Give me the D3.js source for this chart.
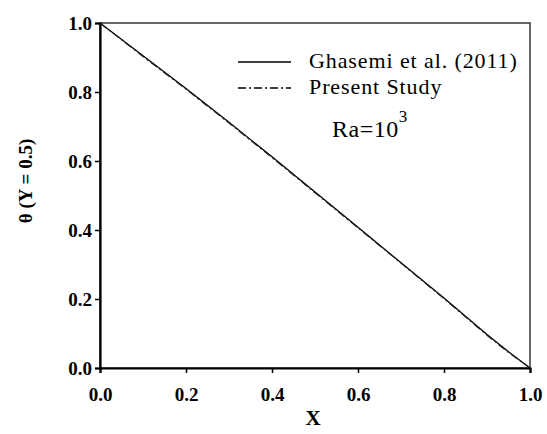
<!DOCTYPE html>
<html>
<head>
<meta charset="utf-8">
<script src="https://cdn.jsdelivr.net/npm/d3@7"></script>
<style>
  body { margin: 0; background: #fff; }
  svg text { fill: #000; }
</style>
</head>
<body>
<div id="chart"></div>
<script>
// data
const xValues = [0.0, 0.1, 0.2, 0.3, 0.4, 0.5, 0.6, 0.7, 0.8, 0.9, 0.95, 1.0];
const ghasemi = [1.0, 0.905, 0.81, 0.712, 0.612, 0.51, 0.408, 0.305, 0.203, 0.097, 0.047, 0.0];
const present = [1.0, 0.903, 0.808, 0.71, 0.61, 0.508, 0.406, 0.304, 0.201, 0.095, 0.045, 0.0];
const xTicks = [0.0, 0.2, 0.4, 0.6, 0.8, 1.0];
const yTicks = [0.0, 0.2, 0.4, 0.6, 0.8, 1.0];
const legendNames = ["Ghasemi et al. (2011)", "Present Study"];

const width = 547, height = 434;
const margin = { top: 23, right: 17, bottom: 66, left: 100 };
const serif = "Liberation Serif, Times New Roman, serif";

const svg = d3.select("#chart").append("svg")
  .attr("width", width)
  .attr("height", height);

const x = d3.scaleLinear().domain([0, 1]).range([margin.left, width - margin.right]);
const y = d3.scaleLinear().domain([0, 1]).range([height - margin.bottom, margin.top]);

// frame
svg.append("rect")
  .attr("x", x(0)).attr("y", y(1))
  .attr("width", x(1) - x(0)).attr("height", y(0) - y(1))
  .attr("fill", "none").attr("stroke", "#333").attr("stroke-width", 1.5);

// x axis
const xAxis = svg.append("g")
  .attr("transform", "translate(0," + y(0) + ")")
  .call(d3.axisBottom(x).tickValues(xTicks).tickFormat(d3.format(".1f")).tickSize(5).tickPadding(15));
xAxis.select(".domain").attr("stroke-width", 2.2);
xAxis.selectAll("line").attr("stroke-width", 1.5);
xAxis.selectAll("text")
  .attr("font-family", serif).attr("font-weight", "bold").attr("font-size", 19);

// y axis
const yAxis = svg.append("g")
  .attr("transform", "translate(" + x(0) + ",0)")
  .call(d3.axisLeft(y).tickValues(yTicks).tickFormat(d3.format(".1f")).tickSize(5).tickPadding(3));
yAxis.select(".domain").attr("stroke-width", 2.2);
yAxis.selectAll("line").attr("stroke-width", 1.5);
yAxis.selectAll("text")
  .attr("font-family", serif).attr("font-weight", "bold").attr("font-size", 19);

// axis titles
svg.append("text")
  .attr("x", 313).attr("y", 425)
  .attr("text-anchor", "middle")
  .attr("font-family", serif).attr("font-weight", "bold").attr("font-size", 21)
  .text("X");

svg.append("text")
  .attr("transform", "translate(32,181) rotate(-90)")
  .attr("text-anchor", "middle")
  .attr("font-family", serif).attr("font-weight", "bold").attr("font-size", 19)
  .text("θ (Y = 0.5)");

// curves
const line = d3.line().x((d, i) => x(xValues[i])).y(d => y(d));

svg.append("path")
  .datum(ghasemi)
  .attr("d", line)
  .attr("fill", "none").attr("stroke", "#000").attr("stroke-width", 1.3);

svg.append("path")
  .datum(present)
  .attr("d", line)
  .attr("fill", "none").attr("stroke", "#222").attr("stroke-width", 1.2)
  .attr("stroke-dasharray", "8,3,2,3");

// legend
const legend = svg.append("g").attr("font-family", serif).attr("font-size", 22);
const dashes = [null, "8,3,2,3"];
legendNames.forEach(function(name, i) {
  const ly = 62 + i * 26;
  legend.append("line")
    .attr("x1", 238).attr("x2", 291).attr("y1", ly).attr("y2", ly)
    .attr("stroke", "#000").attr("stroke-width", 1.3)
    .attr("stroke-dasharray", dashes[i]);
  legend.append("text")
    .attr("x", 309).attr("y", ly + 6)
    .attr("letter-spacing", 0.9)
    .text(name);
});

const ra = svg.append("text")
  .attr("x", 332).attr("y", 137)
  .attr("font-family", serif).attr("font-size", 24)
  .attr("letter-spacing", 0.5);
ra.append("tspan").text("Ra=10");
ra.append("tspan").attr("dy", -15).attr("font-size", 17).text("3");
</script>
</body>
</html>
